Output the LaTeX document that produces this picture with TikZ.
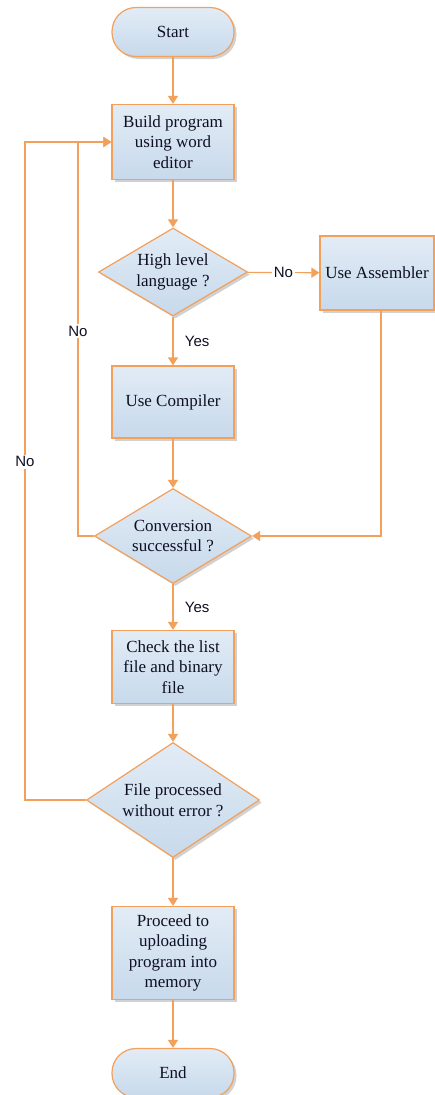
\documentclass[tikz,border=0pt]{standalone}
\usepackage{fontspec}
\setmainfont{Liberation Serif}
\newfontfamily\labelfont{Liberation Sans}
\usetikzlibrary{arrows.meta,shapes.geometric,shadows}
\definecolor{flowline}{RGB}{242,160,90}
\definecolor{boxtop}{RGB}{226,236,246}
\definecolor{boxbot}{RGB}{199,217,235}
\definecolor{inktext}{RGB}{15,15,35}

\begin{document}
\begin{tikzpicture}[x=1pt,y=-1pt,
  every node/.style={font=\fontsize{17}{20.5}\selectfont,text=inktext},
  base/.style={draw=flowline,line width=1.2pt,top color=boxtop,bottom color=boxbot,
    drop shadow={opacity=0.18,shadow xshift=2.5pt,shadow yshift=-2.5pt,fill=black},align=center},
  termbox/.style={base,rectangle,rounded corners=24pt,minimum width=122pt,minimum height=49pt},
  procbox/.style={base,rectangle,minimum width=122pt,inner sep=2pt},
  decbox/.style={base,diamond,inner sep=0pt},
  flow/.style={draw=flowline,line width=1.2pt,-{Triangle[width=10pt,length=8pt]}},
  lbl/.style={font=\labelfont\fontsize{15}{18}\selectfont,fill=white,inner sep=1.5pt},
  side/.style={font=\labelfont\fontsize{15}{18}\selectfont,anchor=west,xshift=8pt}]
\useasboundingbox (0,0) rectangle (435,1095);

\node[termbox] (start) at (173,32) {Start};
\node[procbox,minimum height=75pt] (build) at (173,142) {Build program\\using word\\editor};
\node[decbox,aspect=1.69,minimum width=149pt,minimum height=88pt] (hll) at (173,272) {High level\\language ?};
\node[procbox,minimum width=114pt,minimum height=74pt] (asm) at (377,273) {Use Assembler};
\node[procbox,minimum height=72pt] (comp) at (173,402) {Use Compiler};
\node[decbox,aspect=1.65,minimum width=157pt,minimum height=95pt] (conv) at (173,536) {Conversion\\successful ?};
\node[procbox,minimum height=73pt] (check) at (173,667) {Check the list\\file and binary\\file};
\node[decbox,aspect=1.5,minimum width=173pt,minimum height=115pt] (fpe) at (173,800) {File processed\\without error ?};
\node[procbox,minimum height=93pt] (proc) at (173,953) {Proceed to\\uploading\\program into\\memory};
\node[termbox] (end) at (173,1073) {End};

\coordinate (lp) at (78,142);
\coordinate (fp) at (25,142);
\coordinate (ap) at (381,310);

\draw[flow] (start) -- (build);
\draw[flow] (build) -- (hll);
\draw[flow] (hll) -- node[lbl]{No} (asm);
\draw[flow] (hll) -- node[side]{Yes} (comp);
\draw[flow] (comp) -- (conv);
\draw[flow] (ap) |- (conv);
\draw[flow] (conv.west) -| node[lbl,pos=0.76]{No} (lp) -- (build.west);
\draw[flow] (conv) -- node[side]{Yes} (check);
\draw[flow] (check) -- (fpe);
\draw[flow] (fpe.west) -| node[lbl,pos=0.757]{No} (fp) -- (build.west);
\draw[flow] (fpe) -- (proc);
\draw[flow] (proc) -- (end);
\end{tikzpicture}
\end{document}
